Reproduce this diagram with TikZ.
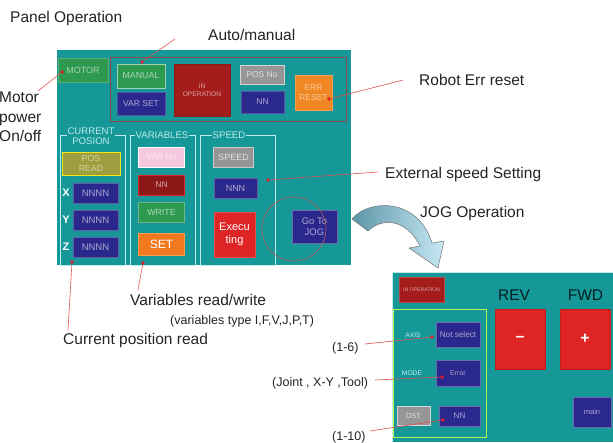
\documentclass[tikz,border=0pt]{standalone}
\usepackage{fontspec}
\setmainfont{Liberation Sans}
\definecolor{teal}{RGB}{22,152,153}
\definecolor{txtgray}{RGB}{35,35,35}
\definecolor{connred}{RGB}{225,80,80}
\definecolor{dotred}{RGB}{225,30,40}
\definecolor{grpline}{RGB}{190,235,235}
\definecolor{topframe}{RGB}{140,70,70}
\definecolor{bgreen}{RGB}{46,154,80}
\definecolor{bblue}{RGB}{42,40,140}
\definecolor{bdred}{RGB}{165,28,28}
\definecolor{bgray}{RGB}{150,150,150}
\definecolor{borange}{RGB}{240,135,35}
\definecolor{bolive}{RGB}{158,158,62}
\definecolor{bpink}{RGB}{245,200,224}
\definecolor{bred}{RGB}{222,36,36}
\definecolor{arrdark}{RGB}{92,150,168}
\definecolor{arrlight}{RGB}{200,232,245}
\newcommand{\fs}[1]{\fontsize{#1}{#1}\selectfont}
\begin{document}
\begin{tikzpicture}[x=1pt,y=-1pt,
  btn/.style={rectangle,inner sep=0pt,align=center,line width=0.8pt,font=\fontsize{8.5}{10}\selectfont},
  lbl/.style={inner sep=0pt,text=txtgray,font=\fontsize{15.5}{17}\selectfont},
  slbl/.style={inner sep=0pt,text=txtgray,font=\fontsize{12.5}{14}\selectfont},
  plbl/.style={inner sep=0pt,text=grpline,font=\fontsize{6.7}{8}\selectfont},
  glbl/.style={inner sep=1pt,fill=teal,text=grpline,align=center,font=\fontsize{9.6}{10.5}\selectfont},
  grp/.style={draw=grpline,line width=0.6pt},
  conn/.style={draw=connred,line width=0.6pt},
  dotc/.style={fill=dotred}]
\useasboundingbox (0,0) rectangle (613,442);
% ---------- main panel ----------
\fill[teal] (57,50) rectangle (351,265);
\draw[topframe,line width=0.8pt] (110,57) rectangle (346,121);
\node[btn,fill=bgreen,draw=bgreen!80!white,text=bgreen!45!white,minimum width=50pt,minimum height=24pt,font=\fs{9}] (motor) at (83,70) {MOTOR};
\node[btn,fill=bgreen,draw=bgreen!45!white,text=bgreen!40!white,minimum width=48pt,minimum height=24pt,font=\fs{8.8}] (manual) at (141,76) {MANUAL};
\node[btn,fill=bblue,draw=bblue!80!white,text=bblue!40!white,minimum width=48pt,minimum height=23pt] (varset) at (141,103.5) {VAR SET};
\node[btn,fill=bdred,draw=bdred!85!black,text=bdred!40!white,minimum width=56pt,minimum height=52pt,font=\fontsize{6.6}{8}\selectfont] (inop) at (202,90) {IN\\OPERATION};
\node[btn,fill=bgray,draw=bgray!40!white,text=bgray!30!white,minimum width=44pt,minimum height=19pt] (posno) at (262,74.5) {POS No};
\node[btn,fill=bblue,draw=bblue!80!white,text=bblue!40!white,minimum width=43pt,minimum height=22pt] (nntop) at (262.5,102) {NN};
\node[btn,fill=borange,draw=borange!80!white,text=borange!45!white,minimum width=37pt,minimum height=35pt] (err) at (313.5,92.5) {ERR\\RESET};
% groups
\draw[grp] (60,135) rectangle (125,265);
\draw[grp] (130,135) rectangle (195,265);
\draw[grp] (200,135) rectangle (275,265);
\node[glbl] (gcur) at (91,136) {CURRENT\\POSION};
\node[glbl] (gvar) at (162,135) {VARIABLES};
\node[glbl] (gspd) at (229,135) {SPEED};
% current position
\node[btn,fill=bolive,draw=yellow!85!bolive,text=bolive!45!white,minimum width=58pt,minimum height=23pt,font=\fontsize{8.8}{9.5}\selectfont] (posread) at (91,163.5) {POS\\READ};
\node[btn,fill=bblue,draw=bblue!75!white,text=bblue!40!white,minimum width=45pt,minimum height=20pt,font=\fs{9.5}] (xn) at (95.5,193) {NNNN};
\node[btn,fill=bblue,draw=bblue!75!white,text=bblue!40!white,minimum width=45pt,minimum height=20pt,font=\fs{9.5}] (yn) at (95.5,220) {NNNN};
\node[btn,fill=bblue,draw=bblue!75!white,text=bblue!40!white,minimum width=45pt,minimum height=20pt,font=\fs{9.5}] (zn) at (95.5,247) {NNNN};
\node[inner sep=0pt,text=white,font=\bfseries\fs{11}] (xl) at (66,193) {X};
\node[inner sep=0pt,text=white,font=\bfseries\fs{11}] (yl) at (66,220) {Y};
\node[inner sep=0pt,text=white,font=\bfseries\fs{11}] (zl) at (66,247) {Z};
% variables
\node[btn,fill=bpink,draw=white,text=bpink!40!white,minimum width=46pt,minimum height=20pt] (varno) at (161.5,157) {VAR No};
\node[btn,fill=bdred!85!black,draw=bred,text=bdred!40!white,minimum width=46pt,minimum height=20pt] (nnred) at (161.5,185) {NN};
\node[btn,fill=bgreen,draw=bgreen!70!white,text=bgreen!40!white,minimum width=46pt,minimum height=20pt,font=\fs{8.8}] (write) at (161.5,212) {WRITE};
\node[btn,fill=borange!90!red,draw=borange!80!white,text=white,minimum width=46pt,minimum height=22pt,font=\fs{12}] (set) at (161.5,244) {SET};
% speed
\node[btn,fill=bgray,draw=bgray!50!white,text=bgray!30!white,minimum width=40pt,minimum height=20pt,font=\fs{9}] (speedb) at (233.5,157) {SPEED};
\node[btn,fill=bblue,draw=bblue!75!white,text=bblue!40!white,minimum width=43pt,minimum height=20pt,font=\fs{9}] (nnn) at (235.5,188) {NNN};
\node[btn,fill=bred,draw=bred!80!white,text=white,minimum width=41pt,minimum height=45pt,font=\fontsize{11}{12.5}\selectfont] (exec) at (234.5,234.5) {Execu\\ting};
\node[btn,fill=bblue,draw=bblue!70!white,text=bblue!40!white,minimum width=45pt,minimum height=33pt,font=\fontsize{9.5}{10.5}\selectfont] (gojog) at (314.5,226.5) {Go To\\JOG};
\draw[connred!80!teal,line width=0.6pt] (294,229) circle (32);
% ---------- curved arrow ----------
\path[draw=black!55,line width=0.5pt,left color=arrdark,right color=arrlight]
  (352,219) .. controls (368,199) and (418,197) .. (432,243)
  -- (444,241) -- (438,268) -- (409,248) -- (420,246)
  .. controls (408,222) and (385,215) .. (368,231) -- cycle;
% ---------- JOG panel ----------
\fill[teal] (392,272) rectangle (613,442);
\draw[grpline,line width=0.6pt] (392,442) -- (392,272) -- (613,272);
\node[btn,fill=bdred,draw=bdred!80!white,text=bdred!40!white,minimum width=45pt,minimum height=25pt,font=\fs{5.2}] (inop2) at (421.5,289.5) {IN OPERATION};
\node[inner sep=0pt,text=black!80!teal,font=\fs{15.5}] (rev) at (514,295) {REV};
\node[inner sep=0pt,text=black!80!teal,font=\fs{15.5}] (fwd) at (585.5,295) {FWD};
\node[btn,fill=bred,draw=bred!85!black,text=white,minimum width=50pt,minimum height=60pt,font=\bfseries\fs{16}] (minus) at (520,339) {--};
\node[btn,fill=bred,draw=bred!85!black,text=white,minimum width=50pt,minimum height=60pt,font=\bfseries\fs{16}] (plus) at (585,339) {+};
\node[btn,fill=bblue,draw=bblue!70!white,text=bblue!40!white,minimum width=38pt,minimum height=30pt,font=\fs{7.5}] (mainb) at (592,412) {main};
\draw[draw=green!40!yellow!70!white,line width=0.7pt] (393,309) rectangle (486,437);
\node[plbl] (axisl) at (413,335) {AXIS};
\node[plbl] (model) at (412,373) {MODE};
\node[btn,fill=bblue,draw=bblue!70!white,text=bblue!40!white,minimum width=44pt,minimum height=25pt,font=\fs{8.2}] (notsel) at (458,334.5) {Not select};
\node[btn,fill=bblue,draw=bblue!70!white,text=bblue!40!white,minimum width=44pt,minimum height=26pt,font=\fs{7}] (errorb) at (458,373) {Error};
\node[btn,fill=bgray,draw=bgray!40!white,text=bgray!30!white,minimum width=33pt,minimum height=19pt,font=\fs{7.5}] (dst) at (413.5,415.5) {DST};
\node[btn,fill=bblue,draw=bblue!70!white,text=bblue!40!white,minimum width=41pt,minimum height=20pt,font=\fs{8}] (nnjog) at (459.5,416) {NN};
% ---------- labels ----------
\node[lbl,anchor=west] (lpanel) at (10,18) {Panel Operation};
\node[lbl,anchor=west] (lauto) at (208,35) {Auto/manual};
\node[lbl,anchor=west,align=left,font=\fontsize{15.5}{19.5}\selectfont] (lmotor) at (-1,117) {Motor\\power\\On/off};
\node[lbl,anchor=west] (lerr) at (419,80) {Robot Err reset};
\node[lbl,anchor=west] (lext) at (385,174) {External speed Setting};
\node[lbl,anchor=west] (ljog) at (420,213) {JOG Operation};
\node[lbl,anchor=west] (lvar) at (130,300) {Variables read/write};
\node[slbl,anchor=west] (lvtype) at (170,321) {(variables type I,F,V,J,P,T)};
\node[lbl,anchor=west] (lcur) at (63,340) {Current position read};
\node[slbl,anchor=west] (l16) at (332,348) {(1-6)};
\node[slbl,anchor=west] (ljoint) at (272,383) {(Joint , X-Y ,Tool)};
\node[slbl,anchor=west] (l110) at (332,437) {(1-10)};
% ---------- connectors ----------
\coordinate (sauto) at (175,39);   \coordinate (eauto) at (142,62);
\coordinate (smotor) at (38,91);   \coordinate (emotor) at (62,72);
\coordinate (serr) at (403,80);    \coordinate (eerr) at (329,99);
\coordinate (sext) at (378,172);   \coordinate (eext) at (268,180);
\coordinate (svar) at (138,290);   \coordinate (evar) at (143,263);
\coordinate (scur) at (68,330);    \coordinate (ecur) at (72,262);
\coordinate (s16) at (365,344);    \coordinate (e16) at (432,337);
\coordinate (sjoint) at (375,380); \coordinate (ejoint) at (442,377);
\coordinate (s110) at (370,431);   \coordinate (e110) at (443,420);
\foreach \s/\e in {sauto/eauto,smotor/emotor,serr/eerr,sext/eext,svar/evar,scur/ecur,s16/e16,sjoint/ejoint,s110/e110}{
  \draw[conn] (\s) -- (\e);
  \fill[dotc] (\e) circle (1.8);
}
\end{tikzpicture}
\end{document}
